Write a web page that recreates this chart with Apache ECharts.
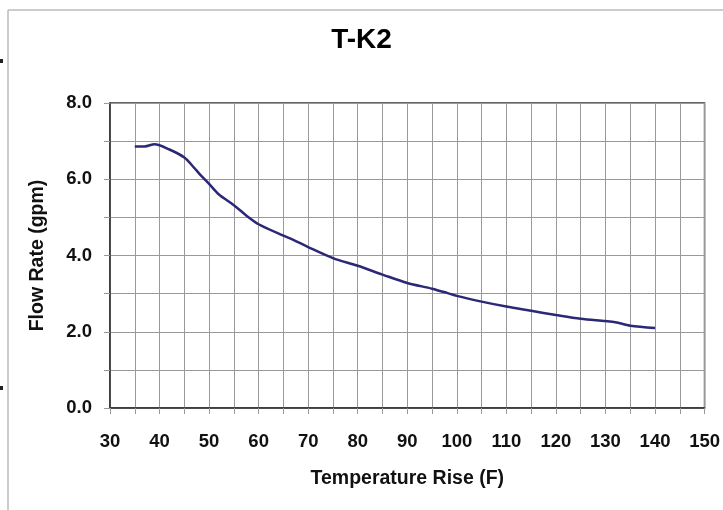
<!DOCTYPE html>
<html>
<head>
<meta charset="utf-8">
<script src="https://cdn.jsdelivr.net/npm/echarts@6/dist/echarts.min.js"></script>
<style>html,body{margin:0;padding:0;background:#fff}#c{width:723px;height:510px}</style>
</head>
<body>
<div id="c"></div>
<script>
const title = 'T-K2';
const xName = 'Temperature Rise (F)';
const yName = 'Flow Rate (gpm)';
const tempRise = [35, 37, 39, 42, 45, 47, 48, 50, 52, 55, 57.5, 60, 65, 67, 70, 75, 80, 85, 90, 95, 98, 100, 105, 110, 115, 120, 125, 130, 132, 135, 140];
const flowRate = [6.86, 6.86, 6.92, 6.78, 6.57, 6.3, 6.15, 5.88, 5.6, 5.32, 5.05, 4.82, 4.52, 4.41, 4.22, 3.93, 3.73, 3.5, 3.28, 3.13, 3.02, 2.94, 2.79, 2.66, 2.55, 2.44, 2.34, 2.28, 2.25, 2.16, 2.1];

const chart = echarts.init(document.getElementById('c'), null, {renderer: 'canvas'});
const font = '"Liberation Sans", Arial, sans-serif';
chart.setOption({
  animation: false,
  backgroundColor: '#fff',
  title: {text: title, left: 'center', top: 21, textStyle: {fontFamily: font, fontSize: 28, fontWeight: 'bold', color: '#000'}},
  grid: {left: 110, right: 17, top: 103, bottom: 102, show: true, borderColor: '#333', borderWidth: 1.5},
  xAxis: {
    type: 'value', min: 30, max: 150, interval: 5,
    name: xName, nameLocation: 'middle', nameGap: 61,
    nameTextStyle: {fontFamily: font, fontSize: 19.5, fontWeight: 'bold', color: '#111'},
    axisLine: {lineStyle: {color: '#333', width: 1.5}},
    axisTick: {show: true, length: 6, lineStyle: {color: '#999'}},
    axisLabel: {margin: 24, fontFamily: font, fontSize: 18.5, fontWeight: 'bold', color: '#111',
      formatter: v => (v % 10 === 0 ? String(v) : '')},
    splitLine: {show: true, lineStyle: {color: '#999', width: 1}}
  },
  yAxis: {
    type: 'value', min: 0, max: 8, interval: 1,
    name: yName, nameLocation: 'middle', nameGap: 62, nameRotate: 90,
    nameTextStyle: {fontFamily: font, fontSize: 19.5, fontWeight: 'bold', color: '#111'},
    axisLine: {show: true, lineStyle: {color: '#333', width: 1.5}},
    axisTick: {show: true, length: 6, lineStyle: {color: '#999'}},
    axisLabel: {margin: 18, fontFamily: font, fontSize: 18.5, fontWeight: 'bold', color: '#111',
      formatter: v => (v % 2 === 0 ? v.toFixed(1) : '')},
    splitLine: {show: true, lineStyle: {color: '#999', width: 1}}
  },
  series: [{
    type: 'line', data: tempRise.map((x, i) => [x, flowRate[i]]),
    smooth: 0.3, showSymbol: false,
    lineStyle: {color: '#2b2876', width: 2.5}
  }],
  graphic: [
    {type: 'line', shape: {x1: 8, y1: 10, x2: 723, y2: 10}, style: {stroke: '#bbb', lineWidth: 1.5}},
    {type: 'line', shape: {x1: 8, y1: 10, x2: 8, y2: 510}, style: {stroke: '#bbb', lineWidth: 1.5}},
    {type: 'rect', shape: {x: 0, y: 59, width: 3, height: 4}, style: {fill: '#222'}},
    {type: 'rect', shape: {x: 0, y: 386, width: 3, height: 4}, style: {fill: '#222'}}
  ]
});
</script>
</body>
</html>
